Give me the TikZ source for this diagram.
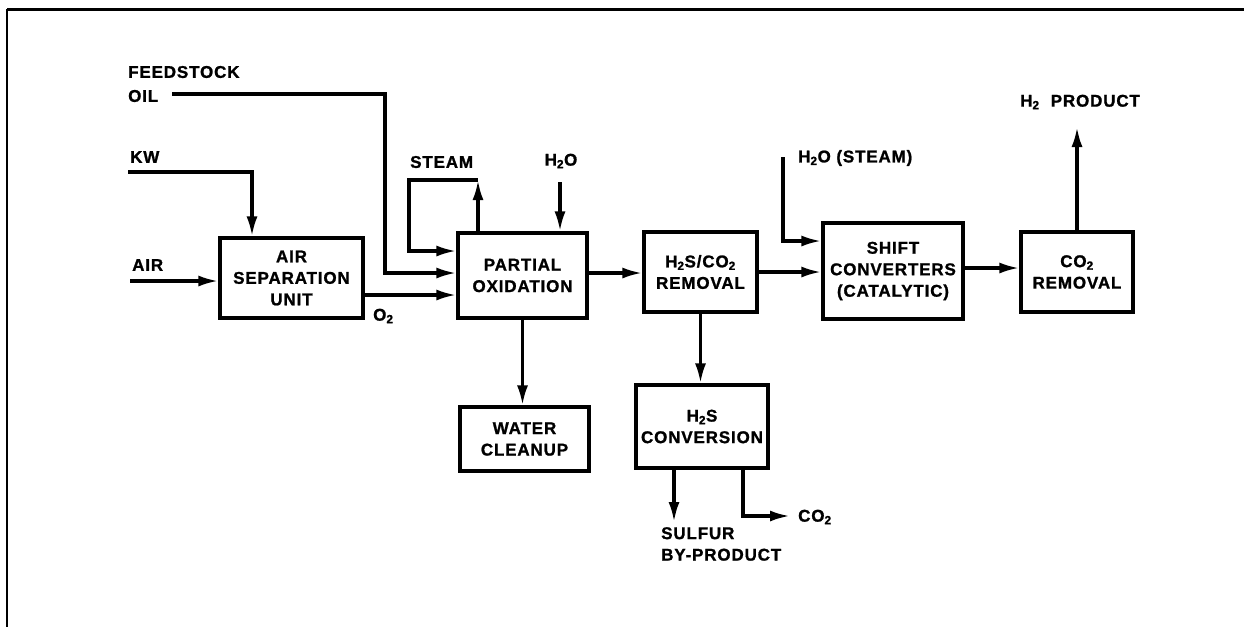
\documentclass[tikz,border=0pt]{standalone}
\usepackage{fontspec}
\setmainfont{Liberation Sans}[LetterSpace=5,BoldFeatures={FakeBold=1.2}]
\usetikzlibrary{arrows.meta,calc}
\tikzset{
  arr/.style={line width=3.2pt,-{Latex[length=20pt,width=11pt]}},
  unit/.style={draw,line width=3.2pt,align=center,inner sep=0pt,
    font=\fontsize{17}{21.5}\selectfont\bfseries},
  lbl/.style={inner sep=0pt,font=\fontsize{17}{21.5}\selectfont\bfseries}
}
\newcommand{\sbs}[1]{\textsubscript{#1}}
\begin{document}
\begin{tikzpicture}[x=1pt,y=-1pt]
\useasboundingbox (0,0) rectangle (1244,627);
% frame
\draw[line width=3pt] (7,9) -- (1244,9);
\draw[line width=1.8pt] (7,9) -- (7,627);

% boxes
\node[unit,minimum width=143pt,minimum height=80pt] (asu) at (291.5,278) {AIR\\SEPARATION\\UNIT};
\node[unit,minimum width=129pt,minimum height=85pt] (po) at (522.5,275.5) {PARTIAL\\OXIDATION};
\node[unit,minimum width=113pt,minimum height=80pt] (hs) at (700.5,272) {H\sbs{2}S/CO\sbs{2}\\REMOVAL};
\node[unit,minimum width=140pt,minimum height=96pt] (shift) at (893,271) {SHIFT\\CONVERTERS\\(CATALYTIC)};
\node[unit,minimum width=112pt,minimum height=80pt] (cor) at (1077,272) {CO\sbs{2}\\REMOVAL};
\node[unit,minimum width=129pt,minimum height=64pt] (wc) at (524.5,439) {WATER\\CLEANUP};
\node[unit,minimum width=132pt,minimum height=83pt] (hsc) at (702,426.5) {H\sbs{2}S\\CONVERSION};

% labels
\node[lbl,anchor=west] (lfeed) at (128,72) {FEEDSTOCK};
\node[lbl,anchor=west] (loil) at (128,96) {OIL};
\node[lbl,anchor=west] (lkw) at (130,157) {KW};
\node[lbl,anchor=west] (lair) at (132,265) {AIR};
\node[lbl,anchor=west] (lo2) at (373,316) {O\sbs{2}};
\node[lbl,anchor=west] (lsteam) at (410,162) {STEAM};
\node[lbl] (lh2o) at (561,161) {H\sbs{2}O};
\node[lbl,anchor=west] (lh2os) at (798,158) {H\sbs{2}O (STEAM)};
\node[lbl,anchor=west] (lh2p) at (1020,102) {H\sbs{2}\ \ PRODUCT};
\node[lbl,anchor=north west,align=left] (lsul) at (661,527) {SULFUR\\BY-PRODUCT};
\node[lbl,anchor=west] (lco2) at (798,517) {CO\sbs{2}};

% coordinates
\coordinate (oilS) at (172,94);
\coordinate (oilC) at (385,94);
\coordinate (yfeed) at (0,273);
\coordinate (kwS) at (128,172);
\coordinate (kwC) at (252,172);
\coordinate (airS) at (130,281);
\coordinate (yo2) at (0,295);
\coordinate (stB) at (478,0);
\coordinate (stT) at (478,180);
\coordinate (stL) at (409,180);
\coordinate (stD) at (409,251);
\coordinate (h2oS) at (560,182);
\coordinate (yhs) at (0,272);
\coordinate (s2S) at (783,157);
\coordinate (s2C) at (783,241);
\coordinate (ysh) at (0,268);
\coordinate (h2P) at (1077,127);
\coordinate (sulE) at (674,522);
\coordinate (co2C) at (743,516);
\coordinate (co2E) at (790,516);

% connectors
\draw[arr] (oilS) -- (oilC) |- (po.west |- yfeed);
\draw[arr] (kwS) -- (kwC) -- (asu.north -| kwC);
\draw[arr] (airS) -- (asu.west |- airS);
\draw[arr] (asu.east |- yo2) -- (po.west |- yo2);
\draw[arr] (po.north -| stB) -- (stT);
\draw[arr] (stT) -- (stL) -- (stD) -- (po.west |- stD);
\draw[arr] (h2oS) -- (po.north -| h2oS);
\draw[arr] (po.east |- yfeed) -- (hs.west |- yfeed);
\draw[arr] (hs.east |- yhs) -- (shift.west |- yhs);
\draw[arr] (s2S) -- (s2C) -- (shift.west |- s2C);
\draw[arr] (shift.east |- ysh) -- (cor.west |- ysh);
\draw[arr] (cor.north) -- (h2P);
\draw[arr] (po.south) -- (po.south |- wc.north);
\draw[arr] (hs.south) -- (hs.south |- hsc.north);
\draw[arr] (hsc.south -| sulE) -- (sulE);
\draw[arr] (hsc.south -| co2C) -- (co2C) -- (co2E);
\end{tikzpicture}
\end{document}
